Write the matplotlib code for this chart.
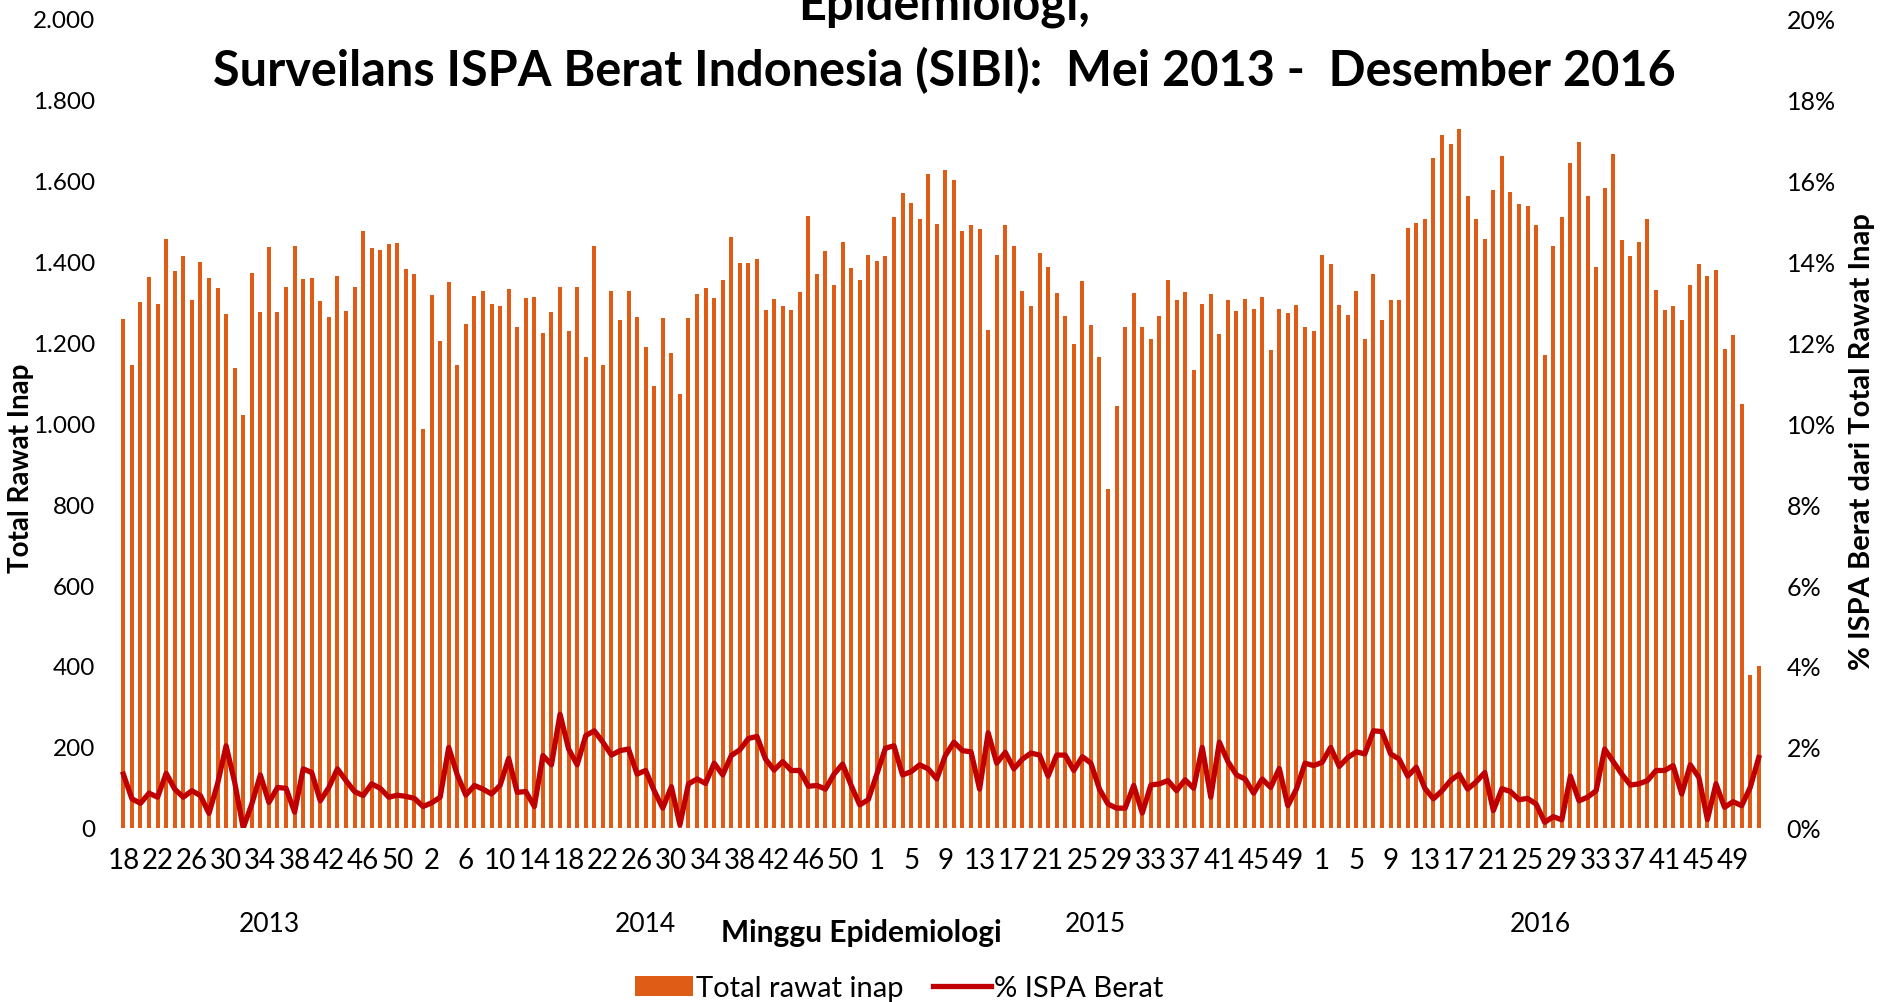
import numpy as np
import matplotlib
matplotlib.use("Agg")
import matplotlib.pyplot as plt
from matplotlib.patches import Patch
from matplotlib.lines import Line2D
from matplotlib.ticker import FuncFormatter, MultipleLocator
import matplotlib.transforms as mtransforms

plt.rcParams['font.family'] = ['Lato', 'DejaVu Sans']

# minggu epidemiologi per tahun
years = ['2013', '2014', '2015', '2016']
weeks_2013 = list(range(18, 53))
weeks_2014 = list(range(1, 54))
weeks_2015 = list(range(1, 53))
weeks_2016 = list(range(1, 53))

# total rawat inap
rawat_2013 = [1258, 1143, 1298, 1360, 1293, 1454, 1375, 1412, 1305, 1397,
              1357, 1333, 1270, 1135, 1019, 1370, 1274, 1434, 1275, 1335,
              1437, 1355, 1357, 1301, 1263, 1362, 1276, 1336, 1473, 1431,
              1427, 1442, 1444, 1380, 1368]
rawat_2014 = [985, 1315, 1202, 1347, 1144, 1244, 1314, 1326, 1294, 1290,
              1330, 1237, 1308, 1311, 1223, 1273, 1337, 1226, 1336, 1163,
              1437, 1144, 1327, 1255, 1325, 1263, 1187, 1091, 1259, 1174,
              1072, 1260, 1319, 1333, 1309, 1353, 1459, 1394, 1394, 1405,
              1278, 1306, 1289, 1278, 1323, 1510, 1367, 1424, 1341, 1448,
              1384, 1352, 1414]
rawat_2015 = [1401, 1412, 1509, 1568, 1544, 1504, 1614, 1492, 1625, 1599,
              1474, 1489, 1478, 1229, 1415, 1488, 1436, 1327, 1290, 1421,
              1386, 1320, 1264, 1195, 1350, 1241, 1163, 838, 1042, 1236,
              1321, 1237, 1207, 1264, 1354, 1304, 1324, 1130, 1293, 1319,
              1219, 1305, 1277, 1307, 1281, 1310, 1180, 1282, 1272, 1291,
              1236, 1228]
rawat_2016 = [1414, 1392, 1291, 1266, 1326, 1207, 1368, 1255, 1305, 1305,
              1481, 1493, 1505, 1654, 1711, 1688, 1727, 1560, 1503, 1454,
              1575, 1660, 1570, 1540, 1535, 1489, 1168, 1438, 1509, 1643,
              1695, 1560, 1386, 1581, 1665, 1451, 1412, 1447, 1503, 1328,
              1278, 1290, 1255, 1341, 1392, 1363, 1378, 1183, 1217, 1048,
              378, 401]

# % ISPA berat dari total rawat inap
pct_2013 = [1.33, 0.72, 0.61, 0.86, 0.76, 1.35, 0.96, 0.76, 0.92, 0.80,
            0.36, 1.09, 2.03, 1.13, 0.00, 0.59, 1.31, 0.63, 1.00, 0.98,
            0.39, 1.46, 1.37, 0.67, 1.00, 1.46, 1.17, 0.90, 0.80, 1.09,
            0.98, 0.76, 0.81, 0.78, 0.73]
pct_2014 = [0.53, 0.62, 0.76, 1.99, 1.31, 0.81, 1.05, 0.96, 0.84, 1.05,
            1.72, 0.88, 0.90, 0.53, 1.79, 1.56, 2.81, 1.95, 1.56, 2.28,
            2.40, 2.12, 1.80, 1.91, 1.95, 1.33, 1.42, 0.92, 0.49, 1.02,
            0.08, 1.09, 1.21, 1.10, 1.60, 1.31, 1.79, 1.93, 2.21, 2.26,
            1.70, 1.43, 1.64, 1.42, 1.42, 1.03, 1.05, 0.96, 1.33, 1.58,
            1.05, 0.57, 0.70]
pct_2015 = [1.33, 1.97, 2.03, 1.31, 1.39, 1.56, 1.46, 1.21, 1.79, 2.12,
            1.91, 1.88, 0.96, 2.35, 1.60, 1.87, 1.46, 1.70, 1.85, 1.80,
            1.28, 1.80, 1.80, 1.42, 1.76, 1.60, 0.96, 0.59, 0.49, 0.49,
            1.05, 0.37, 1.06, 1.09, 1.17, 0.92, 1.19, 0.98, 1.99, 0.76,
            2.12, 1.64, 1.31, 1.21, 0.86, 1.21, 1.00, 1.47, 0.55, 0.96,
            1.60, 1.54]
pct_2016 = [1.62, 1.99, 1.52, 1.74, 1.88, 1.83, 2.40, 2.38, 1.83, 1.70,
            1.28, 1.50, 0.98, 0.72, 0.92, 1.17, 1.33, 0.96, 1.14, 1.37,
            0.43, 0.97, 0.90, 0.70, 0.73, 0.59, 0.14, 0.28, 0.20, 1.28,
            0.67, 0.76, 0.92, 1.95, 1.64, 1.33, 1.06, 1.09, 1.17, 1.42,
            1.42, 1.54, 0.84, 1.56, 1.25, 0.21, 1.09, 0.51, 0.65, 0.55,
            1.00, 1.74]

bar_color = '#DF5C16'
line_color = '#C00000'

weeks = weeks_2013 + weeks_2014 + weeks_2015 + weeks_2016
rawat = rawat_2013 + rawat_2014 + rawat_2015 + rawat_2016
pct = np.array(pct_2013 + pct_2014 + pct_2015 + pct_2016) / 100
x = np.arange(len(weeks))

fig = plt.figure(figsize=(18.81, 10.03), dpi=100)
ax = fig.add_axes([0.0633, 0.1735, 0.874, 0.8075])
ax2 = ax.twinx()

ax.bar(x, rawat, width=0.47, color=bar_color, zorder=2)
ax2.plot(x, pct, color=line_color, linewidth=3.8, zorder=3)

ax.set_xlim(-0.5, len(x) - 0.5)
ax.set_ylim(0, 2000)
ax2.set_ylim(0, 0.20)
ax.yaxis.set_major_locator(MultipleLocator(200))
ax2.yaxis.set_major_locator(MultipleLocator(0.02))
ax.yaxis.set_major_formatter(FuncFormatter(lambda v, p: f'{int(v):,}'.replace(',', '.')))
ax2.yaxis.set_major_formatter(FuncFormatter(lambda v, p: f'{v * 100:.0f}%'))

tick_pos = x[::4]
ax.set_xticks(tick_pos)
ax.set_xticklabels([str(weeks[i]) for i in tick_pos])

for a in (ax, ax2):
    for s in a.spines.values():
        s.set_visible(False)
    a.tick_params(length=0)
ax.tick_params(axis='x', pad=14, labelsize=20)
ax.tick_params(axis='y', pad=17, labelsize=17.5)
ax2.tick_params(axis='y', pad=17, labelsize=18)

# label tahun di bawah minggu
trans = mtransforms.blended_transform_factory(ax.transData, ax.transAxes)
sizes = [len(weeks_2013), len(weeks_2014), len(weeks_2015), len(weeks_2016)]
start = 0
for yr, n in zip(years, sizes):
    ax.text(start + (n - 1) / 2, -0.118, yr, transform=trans, ha='center',
            va='center', fontsize=19)
    start += n

fig.text(0.458, 0.070, 'Minggu Epidemiologi', ha='center', va='center',
         fontsize=21.5, fontweight='bold')
fig.text(0.011, 0.533, 'Total Rawat Inap', rotation=90, ha='center',
         va='center', fontsize=20, fontweight='bold')
fig.text(0.990, 0.560, '% ISPA Berat dari Total Rawat Inap', rotation=90,
         ha='center', va='center', fontsize=21, fontweight='bold')

fig.text(0.502, 0.995, 'Epidemiologi,', ha='center', va='center',
         fontsize=35, fontweight='bold')
fig.text(0.502, 0.930, 'Surveilans ISPA Berat Indonesia (SIBI):  Mei 2013 -  Desember 2016',
         ha='center', va='center', fontsize=35, fontweight='bold')

handles = [Patch(facecolor=bar_color, label='Total rawat inap'),
           Line2D([0], [0], color=line_color, linewidth=3.8, label='% ISPA Berat')]
fig.legend(handles=handles, loc='center', bbox_to_anchor=(0.478, 0.014),
           ncol=2, frameon=False, fontsize=21, handlelength=2.0,
           handletextpad=0.1, columnspacing=1.0)

fig.savefig('out.png', dpi=100)
